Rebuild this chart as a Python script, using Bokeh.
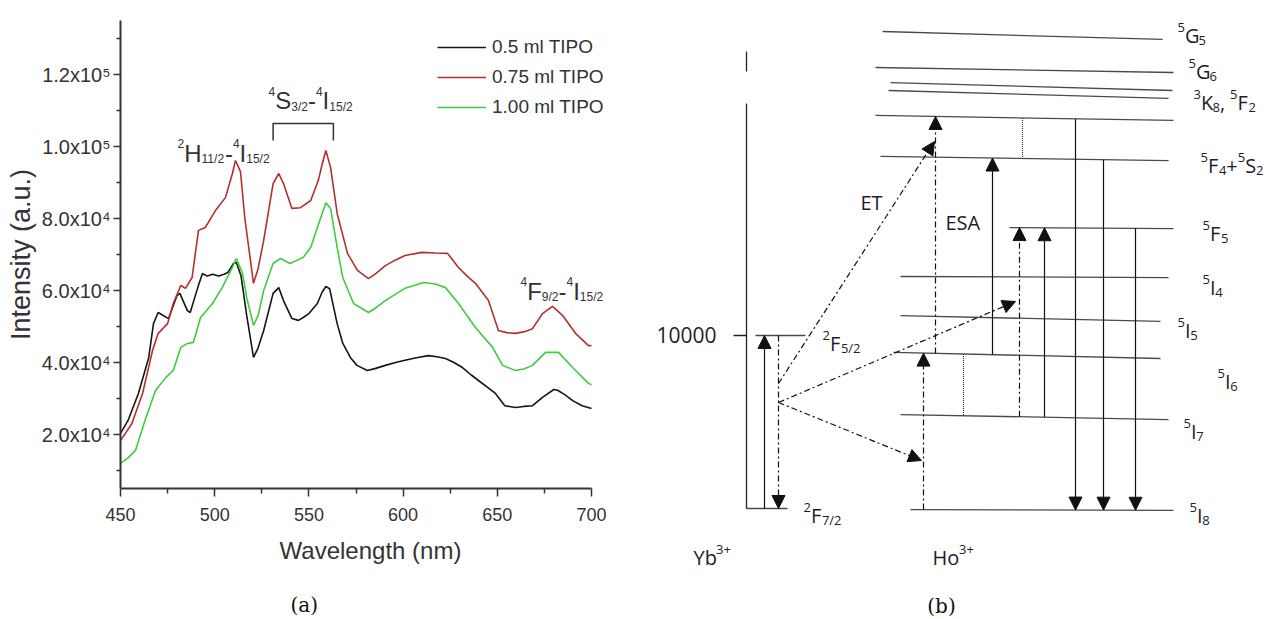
import re
from bokeh.plotting import figure
from bokeh.models import (ColumnDataSource, Range1d, FixedTicker, Legend, LegendItem,
                          Title, Arrow, NormalHead)
from bokeh.layouts import row, column
from bokeh.embed import file_html
from bokeh.resources import INLINE
from bokeh.core.properties import value

# ---------------- (a) emission spectra ----------------
wl_05 = [450, 454, 459.5, 465, 467.5, 470, 475.5, 480, 481.5, 485.5, 487, 491, 493.5, 496, 499,
         502, 505, 507, 510, 511.5, 514, 517, 520.6, 523, 526, 531, 534, 536.5, 541, 544.5, 547,
         550, 554.5, 557, 559, 561, 565, 568, 572, 575.5, 581, 585, 590.6, 596, 601, 607, 613.5,
         618, 622.5, 627, 631.5, 636, 640, 645, 649, 654, 659.6, 664, 668.7, 674, 680, 682, 686,
         690, 695, 700]
int_05 = [20300, 23900, 31400, 41400, 50800, 53900, 52200, 58600, 59200, 54400, 53900, 60800, 64700,
          64000, 64500, 64000, 64500, 65000, 67500, 67800, 64000, 53000, 41400, 44000, 48900, 59200,
          60800, 57200, 52200, 51700, 52500, 53600, 56400, 59500, 61100, 60500, 50800, 45300, 41400,
          39200, 37800, 38300, 39200, 40000, 40600, 41300, 41900, 41600, 41100, 40000, 38600, 36600,
          35000, 33000, 31400, 28000, 27500, 27800, 28000, 30300, 32500, 32300, 31000, 29400, 28000,
          27200]

wl_075 = [450, 456, 461.7, 467, 470, 475, 478, 482, 484.5, 488, 491.4, 495, 500.4, 505.7, 509.4, 511,
          513.7, 516, 520.6, 523, 526, 531, 534, 536.5, 541, 545.5, 551, 555, 557, 559, 561.5, 565,
          570.5, 575.8, 581.6, 585, 590.6, 596, 601, 610, 617, 623.6, 629.4, 634, 638.4, 645.3,
          650.6, 655, 659.6, 664, 668.7, 674, 679.3, 684.6, 691.5, 698.4, 700]
int_075 = [18300, 23000, 31400, 43300, 48100, 50800, 56400, 61400, 60600, 63600, 76700, 77500, 82200,
           85800, 92500, 96100, 93000, 80000, 62000, 66000, 73900, 89700, 92500, 89700, 82800, 83000,
           85000, 90600, 95000, 98900, 94200, 81400, 70300, 65600, 63300, 64500, 66900, 68500, 69700,
           70600, 70400, 70300, 66400, 64000, 62000, 57200, 48900, 48300, 48100, 48500, 49400, 53600,
           55600, 53100, 48100, 44700, 44700]

wl_100 = [450, 454, 458, 463, 468.6, 474, 478, 482, 485.5, 488.7, 492.5, 498.8, 504, 509.4, 511.5,
          514.8, 517, 520.6, 523, 526, 531, 535, 540, 547, 551, 554.5, 559, 561.5, 565, 568, 573.7,
          581.6, 585, 590.6, 596, 601, 611, 617, 622.5, 629.4, 638.4, 647.5, 652.8, 659.6, 664,
          668.7, 675.6, 682.5, 690, 698.4, 700]
int_100 = [12000, 13500, 15600, 23900, 32200, 35800, 37800, 44200, 45300, 45600, 52500, 56400, 60800,
           66400, 68900, 64700, 58000, 50300, 53000, 60000, 67500, 68900, 67500, 69200, 72000, 77500,
           84400, 82800, 72000, 63600, 56400, 53900, 55000, 57200, 59000, 60600, 62200, 61800, 60800,
           56400, 49700, 44200, 39200, 37800, 38200, 39200, 42800, 42800, 38600, 34200, 33800]

series_labels = ["0.5 ml TIPO", "0.75 ml TIPO", "1.00 ml TIPO"]

x_ticks = [450, 500, 550, 600, 650, 700]
x_minor_ticks = [475, 525, 575, 625, 675]
y_ticks = [20000, 40000, 60000, 80000, 100000, 120000]
y_tick_labels = ["2.0x10⁴", "4.0x10⁴", "6.0x10⁴", "8.0x10⁴", "1.0x10⁵", "1.2x10⁵"]
y_minor_ticks = [10000, 30000, 50000, 70000, 90000, 110000, 130000]

band_labels = ["^{2}H_{11/2}-^{4}I_{15/2}", "^{4}S_{3/2}-^{4}I_{15/2}", "^{4}F_{9/2}-^{4}I_{15/2}"]
band_label_wl = [480.3, 528.6, 662.3]
band_label_int = [100560, 115150, 62200]
bracket_wl = [531, 563]
bracket_top = 106400
bracket_foot = 101700

# ---------------- (b) energy level diagram ----------------
yb_levels = ["^{2}F_{7/2}", "^{2}F_{5/2}"]
yb_energy = [0, 10000]
ho_levels = ["5I8", "5I7", "5I6", "5I5", "5I4", "5F5", "5F4+5S2", "5F3", "5F2", "3K8", "5G6", "5G5"]
ho_energy_left = [-60, 5430, 9020, 11150, 13410, 16240, 20350, 22720, 24160, 24620, 25490, 27570]
ho_energy_right = [-110, 5140, 8670, 10810, 13350, 16180, 20110, 22430, 23700, 24160, 25200, 27110]
level_labels = ["^{5}G_{5}", "^{5}G_{6}", "^{3}K_{8}, ^{5}F_{2}", "^{5}F_{4}+^{5}S_{2}", "^{5}F_{5}",
                "^{5}I_{4}", "^{5}I_{5}", "^{5}I_{6}", "^{5}I_{7}", "^{5}I_{8}"]
# energy transfer paths (start/end energies, cm-1 scale of the sketch)
et_start_energy = [7225, 6127, 6127]
et_end_energy = [21213, 11965, 2774]

# ---- layout (diagram x positions in panel px units) ----
ho_x_left = [910, 900, 893, 900, 900, 1009, 880, 875, 888, 890, 875, 882]
ho_x_right = [1173, 1168, 1160, 1160, 1168, 1173, 1168, 1173, 1168, 1172, 1173, 1162]
level_label_pos = [(1177, 27744), (1188, 25663), (1193, 23871), (1200, 20230), (1202, 16300),
                   (1202, 13178), (1177, 10693), (1217, 7745), (1183, 4855), (1189, 0)]
et_x0 = [778, 778, 778]
et_x1 = [934, 1015, 921]
ho_transitions = [(923, "5I8", "5I6", "dd"), (935, "5I6", "5F3", "dd"), (992, "5I6", "5F4+5S2", "s"),
                  (1019, "5I7", "5F5", "dd"), (1044, "5I7", "5F5", "s"), (1075, "5F3", "5I8", "s"),
                  (1103, "5F4+5S2", "5I8", "s"), (1135, "5F5", "5I8", "s")]
nonrad = [(963, "5I6", "5I7"), (1022, "5F3", "5F4+5S2")]


def ho_E(name, x):
    i = ho_levels.index(name)
    t = (x - ho_x_left[i]) / (ho_x_right[i] - ho_x_left[i])
    return ho_energy_left[i] + t * (ho_energy_right[i] - ho_energy_left[i])


ARIAL = {**{d: 0.556 for d in "0123456789"}, ".": 0.278, "x": 0.5, "-": 0.333, "/": 0.278,
         "H": 0.722, "I": 0.278, "S": 0.667, "F": 0.611}
OPEN = {**{d: 0.572 for d in "0123456789"}, "F": 0.549, "G": 0.683, "I": 0.27, "K": 0.581,
        "S": 0.534, "+": 0.572, ",": 0.245, " ": 0.26, "/": 0.36, "Y": 0.53, "b": 0.6, "H": 0.73,
        "o": 0.6, "E": 0.55, "T": 0.55, "A": 0.63}


def parse_rich(s):
    pieces, buf, i = [], "", 0
    while i < len(s):
        if s[i] in "^_" and i + 1 < len(s) and s[i + 1] == "{":
            if buf:
                pieces.append((buf, "n"))
                buf = ""
            j = s.index("}", i)
            pieces.append((s[i + 2:j], "sup" if s[i] == "^" else "sub"))
            i = j + 1
        else:
            buf += s[i]
            i += 1
    if buf:
        pieces.append((buf, "n"))
    return pieces


def rich_rows(rows, label, x, y, size, metrics, ratio, sup_shift, sub_shift):
    xo = 0.0
    for txt, kind in parse_rich(label):
        fs = size if kind == "n" else size * ratio
        yo = 0.36 * size + {"n": 0.0, "sup": sup_shift * size, "sub": sub_shift * size}[kind]
        rows["x"].append(x)
        rows["y"].append(y)
        rows["text"].append(txt)
        rows["xo"].append(xo)
        rows["yo"].append(yo)
        rows["fs"].append(f"{fs:.1f}px")
        xo += sum(metrics.get(c, 0.55) for c in txt) * fs


def new_rows():
    return {"x": [], "y": [], "text": [], "xo": [], "yo": [], "fs": []}


def no_align(p):
    try:
        p.frame_align = False
        return True
    except Exception:
        return False


AX = "#333333"
# ======================= figure (a) =======================
# frame: 500 px wide (450..700 nm occupies 471 px), 468 px tall
p1 = figure(width=633, height=619, x_range=Range1d(450, 700 + 29 / 1.884),
            y_range=Range1d(5000, 135000), toolbar_location=None, output_backend="svg",
            min_border_left=120, min_border_top=20, min_border_right=13, min_border_bottom=131)
p1.outline_line_color = None
p1.xgrid.grid_line_color = None
p1.ygrid.grid_line_color = None

r_black = p1.line(wl_05, int_05, line_color="#151515", line_width=1.6)
r_red = p1.line(wl_075, int_075, line_color="#b3302c", line_width=1.6)
r_green = p1.line(wl_100, int_100, line_color="#3fcc3f", line_width=1.6)

p1.xaxis.ticker = FixedTicker(ticks=x_ticks, minor_ticks=x_minor_ticks)
p1.yaxis.ticker = FixedTicker(ticks=y_ticks, minor_ticks=y_minor_ticks)
p1.xaxis.bounds = (450, 700)
p1.yaxis.major_label_overrides = {v: t for v, t in zip(y_ticks, y_tick_labels)}
for ax in (p1.xaxis[0], p1.yaxis[0]):
    ax.axis_line_width = 2
    ax.axis_line_color = AX
    ax.major_tick_line_color = AX
    ax.minor_tick_line_color = AX
    ax.major_tick_line_width = 1.5
    ax.minor_tick_line_width = 1.5
    ax.major_tick_in = 0
    ax.minor_tick_in = 0
    ax.major_label_text_font = "Liberation Sans"
    ax.major_label_text_color = AX
    ax.axis_label_text_font = "Liberation Sans"
    ax.axis_label_text_font_style = "normal"
    ax.axis_label_text_color = AX
p1.xaxis.major_tick_out = 8
p1.xaxis.minor_tick_out = 5
p1.yaxis.major_tick_out = 7
p1.yaxis.minor_tick_out = 4
p1.xaxis.major_label_text_font_size = "18px"
p1.yaxis.major_label_text_font_size = "20px"
p1.xaxis.major_label_standoff = 11
p1.yaxis.major_label_standoff = 3
p1.xaxis.axis_label = "Wavelength (nm)"
p1.yaxis.axis_label = "Intensity (a.u.)"
p1.xaxis.axis_label_text_font_size = "24px"
p1.yaxis.axis_label_text_font_size = "27px"
p1.xaxis.axis_label_standoff = 13
p1.yaxis.axis_label_standoff = 3

legend = Legend(items=[LegendItem(label=series_labels[0], renderers=[r_black]),
                       LegendItem(label=series_labels[1], renderers=[r_red]),
                       LegendItem(label=series_labels[2], renderers=[r_green])],
                location=(317, 370), label_text_font="Liberation Sans", label_text_font_size="19px",
                label_text_color=AX, glyph_width=49, glyph_height=20, label_height=20,
                spacing=8, padding=0, margin=0, label_standoff=6, border_line_color=None,
                background_fill_alpha=0)
p1.add_layout(legend)

rows_a = new_rows()
for lab, wx, iy in zip(band_labels, band_label_wl, band_label_int):
    rich_rows(rows_a, lab, wx, iy, 24, ARIAL, 0.5, -0.40, 0.26)
p1.text(x="x", y="y", text="text", x_offset="xo", y_offset="yo", text_font_size="fs",
        text_font=value("Liberation Sans"), text_color=AX, text_baseline="alphabetic",
        text_align="left", source=ColumnDataSource(rows_a))
p1.line([bracket_wl[0], bracket_wl[0], bracket_wl[1], bracket_wl[1]],
        [bracket_foot, bracket_top, bracket_top, bracket_foot], line_color=AX, line_width=1.5)

# panel caption below the axis title (two-line title: blank line pushes "(a)" down)
cap_a = Title(text="\n(a)", align="left", offset=170, vertical_align="bottom",
              text_font="DejaVu Serif", text_font_size="20px", text_font_style="normal",
              text_color="#111111")
try:
    cap_a.standoff = 0
except Exception:
    pass
p1.add_layout(cap_a, "below")

# ======================= figure (b) =======================
p2 = figure(width=633, height=619, x_range=Range1d(633, 1266), y_range=Range1d(-6416, 29362),
            toolbar_location=None, output_backend="svg", x_axis_type=None, y_axis_type=None,
            min_border=0)
p2.outline_line_color = None

LV = "#4a4a4a"
# Ho levels
p2.segment(x0=ho_x_left, y0=ho_energy_left, x1=ho_x_right, y1=ho_energy_right,
           line_color=LV, line_width=1.3)
# Yb levels and energy axis
p2.segment(x0=[746, 755], y0=yb_energy, x1=[787, 805], y1=yb_energy, line_color=LV, line_width=1.3)
p2.segment(x0=[746, 746, 733], y0=[yb_energy[0], 25259, yb_energy[1]],
           x1=[746, 746, 746], y1=[23409, 26415, yb_energy[1]], line_color="#222222", line_width=1.3)


def arrows(x0, y0, x1, y1, dash, head=True):
    src = ColumnDataSource(dict(x0=x0, y0=y0, x1=x1, y1=y1))
    end = NormalHead(size=13, fill_color="#111111", line_color="#111111", line_width=1) if head else None
    p2.add_layout(Arrow(x_start="x0", y_start="y0", x_end="x1", y_end="y1", source=src, end=end,
                        line_color="#111111", line_width=1.2, line_dash=dash))


# Yb pump (solid) and Yb relaxation (dash-dot)
arrows([764], [yb_energy[0]], [764], [yb_energy[1]], "solid")
arrows([778], [yb_energy[1]], [778], [yb_energy[0]], "6 3 2 3")
# energy transfer Yb -> Ho
arrows(et_x0, et_start_energy, et_x1, et_end_energy, "6 3 2 3")
# Ho transitions
for style in ("s", "dd"):
    tr = [t for t in ho_transitions if t[3] == style]
    arrows([t[0] for t in tr], [ho_E(t[1], t[0]) for t in tr], [t[0] for t in tr],
           [ho_E(t[2], t[0]) for t in tr], "solid" if style == "s" else "6 3 2 3")
# non-radiative relaxation (dotted)
p2.segment(x0=[n[0] for n in nonrad], y0=[ho_E(n[1], n[0]) for n in nonrad],
           x1=[n[0] for n in nonrad], y1=[ho_E(n[2], n[0]) for n in nonrad],
           line_color="#333333", line_width=1.2, line_dash="1 1")

rows_b = new_rows()
for lab, (lx, ly) in zip(level_labels, level_label_pos):
    rich_rows(rows_b, lab, lx, ly, 20, OPEN, 0.65, -0.40, 0.22)
rich_rows(rows_b, yb_levels[1], 822, 9942, 20, OPEN, 0.65, -0.40, 0.22)
rich_rows(rows_b, yb_levels[0], 803, 0, 20, OPEN, 0.65, -0.40, 0.22)
rich_rows(rows_b, "Yb^{3+}", 693, -2428, 20, OPEN, 0.65, -0.40, 0.22)
rich_rows(rows_b, "Ho^{3+}", 932, -2428, 20, OPEN, 0.65, -0.40, 0.22)
rich_rows(rows_b, "ET", 860, 18090, 20, OPEN, 0.65, -0.40, 0.22)
rich_rows(rows_b, "ESA", 945, 16935, 20, OPEN, 0.65, -0.40, 0.22)
TXT = "#1c1c2a"
p2.text(x="x", y="y", text="text", x_offset="xo", y_offset="yo", text_font_size="fs",
        text_font=value("Open Sans"), text_color=TXT, text_baseline="alphabetic",
        text_align="left", source=ColumnDataSource(rows_b))
p2.text(x=[716], y=[yb_energy[1]], text=[str(yb_energy[1])], text_font=value("Open Sans"),
        text_font_size="21px", text_color=TXT, text_align="right", text_baseline="middle")
p2.text(x=[941], y=[-5664], text=["(b)"], text_font=value("DejaVu Serif"), text_font_size="20px",
        text_color="#111111", text_align="center", text_baseline="middle")

ok1 = no_align(p1)
ok2 = no_align(p2)
if ok1 and ok2:
    layout = row(p1, p2)
else:
    layout = row(column(p1), column(p2))
open("out.html", "w").write(file_html(layout, INLINE))
